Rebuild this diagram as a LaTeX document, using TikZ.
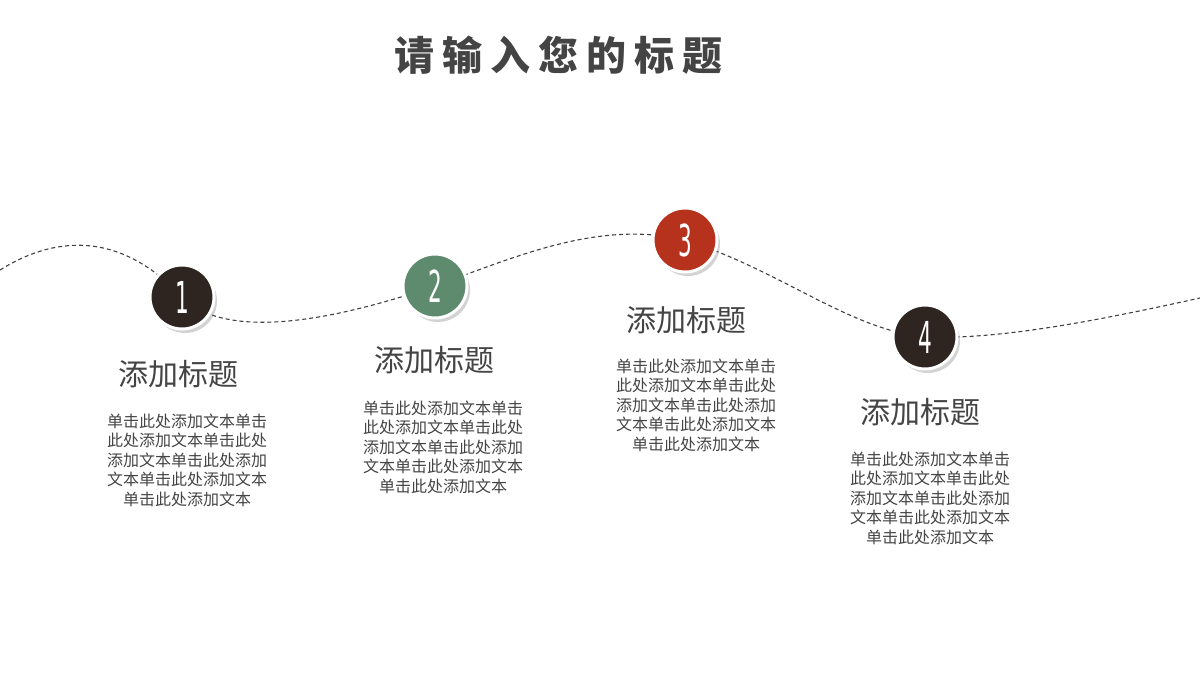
\documentclass[tikz,border=0pt]{standalone}
\usepackage{fontspec}
\newfontfamily\cjk{Noto Sans CJK SC}
\newfontfamily\cjkb{Noto Sans CJK SC Black}
\newfontfamily\numf{DejaVu Sans Condensed}
\usetikzlibrary{shadows}
\definecolor{dk}{HTML}{2E2420}
\definecolor{gr}{HTML}{5E8B6E}
\definecolor{rd}{HTML}{B7321C}
\definecolor{tx}{HTML}{444444}
\begin{document}
\begin{tikzpicture}[x=1pt,y=-1pt,
  num/.style={circle,minimum size=64pt,draw=white,line width=3pt,text=white,font=\numf\fontsize{40}{40}\selectfont,drop shadow={shadow xshift=3pt,shadow yshift=-4pt,opacity=0.35}},
  head/.style={text=tx,font=\cjk\fontsize{30}{34}\selectfont},
  body/.style={text=tx,align=center,font=\cjk\fontsize{16}{19.5}\selectfont}]
\useasboundingbox (0,0) rectangle (1200,675);
\node[text=tx,font=\cjkb\fontsize{40}{40}\selectfont] (t) at (558,55) {请\hspace{8pt}输\hspace{8pt}入\hspace{8pt}您\hspace{8pt}的\hspace{8pt}标\hspace{8pt}题};
\draw[dash pattern=on 4pt off 3pt,line width=1.1pt,black!75] (0,270) .. controls (40,245) and (110,220) .. (182,297)
  .. controls (230,345) and (350,315) .. (435,286)
  .. controls (520,255) and (600,220) .. (685,240)
  .. controls (780,270) and (850,330) .. (925,337)
  .. controls (1000,340) and (1100,320) .. (1200,298);
\node[num,fill=dk] (c1) at (182,297) {\scalebox{0.6}[1.1]{1}};
\node[num,fill=gr] (c2) at (435,286) {\scalebox{0.6}[1.1]{2}};
\node[num,fill=rd] (c3) at (685,240) {\scalebox{0.6}[1.1]{3}};
\node[num,fill=dk] (c4) at (925,337) {\scalebox{0.6}[1.1]{4}};
\node[head] (h1) at (178,374) {添加标题};
\node[head] (h2) at (434,360) {添加标题};
\node[head] (h3) at (686,320) {添加标题};
\node[head] (h4) at (920,412) {添加标题};
\node[body] (b1) at (187,460) {单击此处添加文本单击\\此处添加文本单击此处\\添加文本单击此处添加\\文本单击此处添加文本\\单击此处添加文本};
\node[body] (b2) at (443,447) {单击此处添加文本单击\\此处添加文本单击此处\\添加文本单击此处添加\\文本单击此处添加文本\\单击此处添加文本};
\node[body] (b3) at (696,405) {单击此处添加文本单击\\此处添加文本单击此处\\添加文本单击此处添加\\文本单击此处添加文本\\单击此处添加文本};
\node[body] (b4) at (930,498) {单击此处添加文本单击\\此处添加文本单击此处\\添加文本单击此处添加\\文本单击此处添加文本\\单击此处添加文本};
\end{tikzpicture}
\end{document}
